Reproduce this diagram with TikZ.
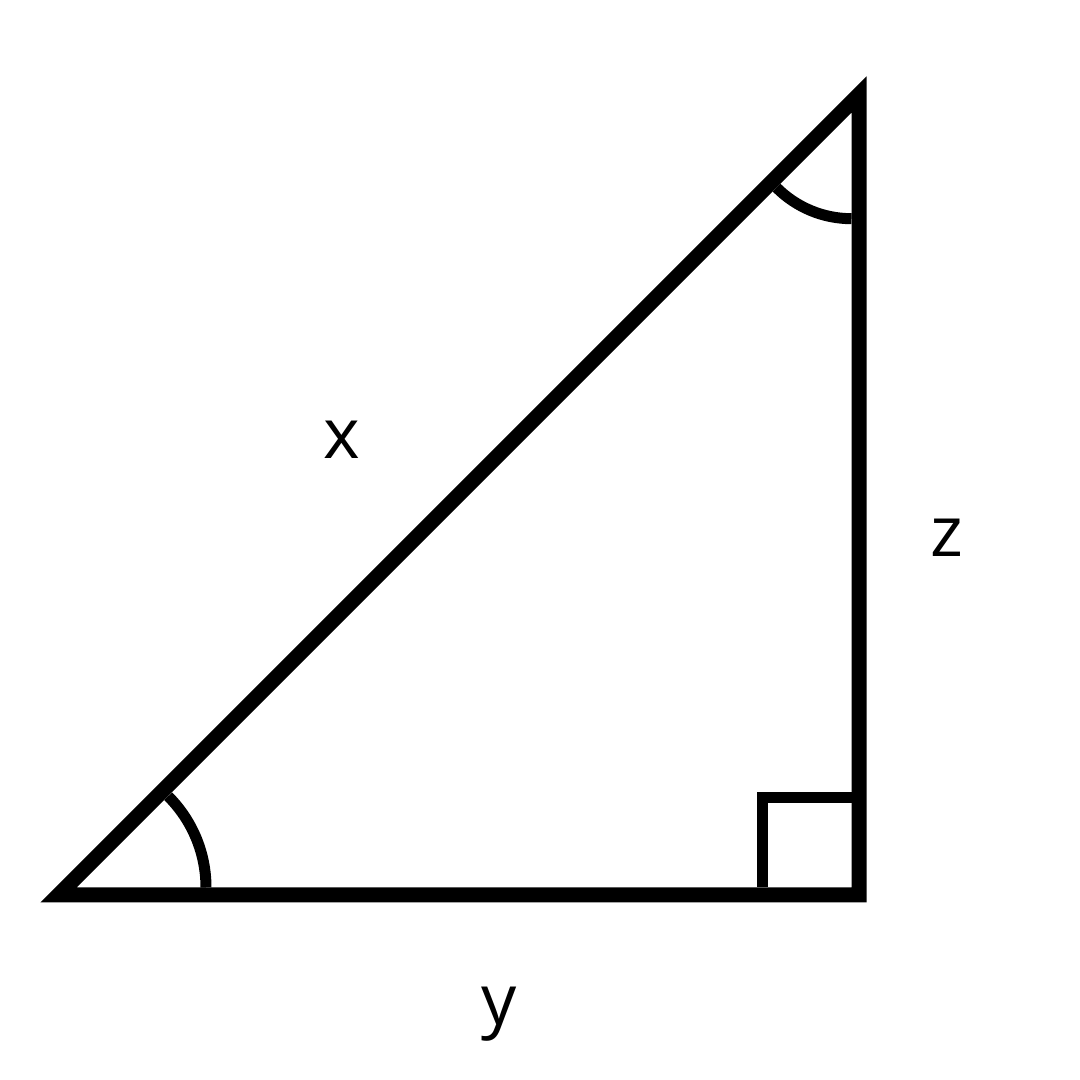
\documentclass[tikz,border=0pt]{standalone}
\usepackage{fontspec}
\setmainfont{Open Sans}
\usetikzlibrary{calc}

\begin{document}
\begin{tikzpicture}[x=1pt,y=1pt]
\useasboundingbox (0,0) rectangle (1080,1080);
\tikzset{side/.style={line width=15pt, line join=miter},
         anglemark/.style={line width=11pt},
         lab/.style={font=\fontsize{70}{80}\selectfont, anchor=base, inner sep=0pt}}
% Corners
\coordinate (A) at (58.6,185);
\coordinate (B) at (859,185);
\coordinate (C) at (859,985.4);
% Triangle
\draw[side] (A) -- (B) -- (C) -- cycle;
% Angle marks
\draw[anglemark] (77,192.5) ++(0:129) arc[start angle=0, end angle=45, radius=129];
\draw[anglemark] (851.5,967.3) ++(225:106) arc[start angle=225, end angle=270, radius=106];
% Right angle
\draw[anglemark] (851.5,282) -- (762.5,282) -- (762.5,192.5);
% Labels
\node[lab] (x) at (342,621) {x};
\node[lab] (z) at (947,523) {z};
\node[lab] (y) at (499,55) {y};
\end{tikzpicture}
\end{document}
